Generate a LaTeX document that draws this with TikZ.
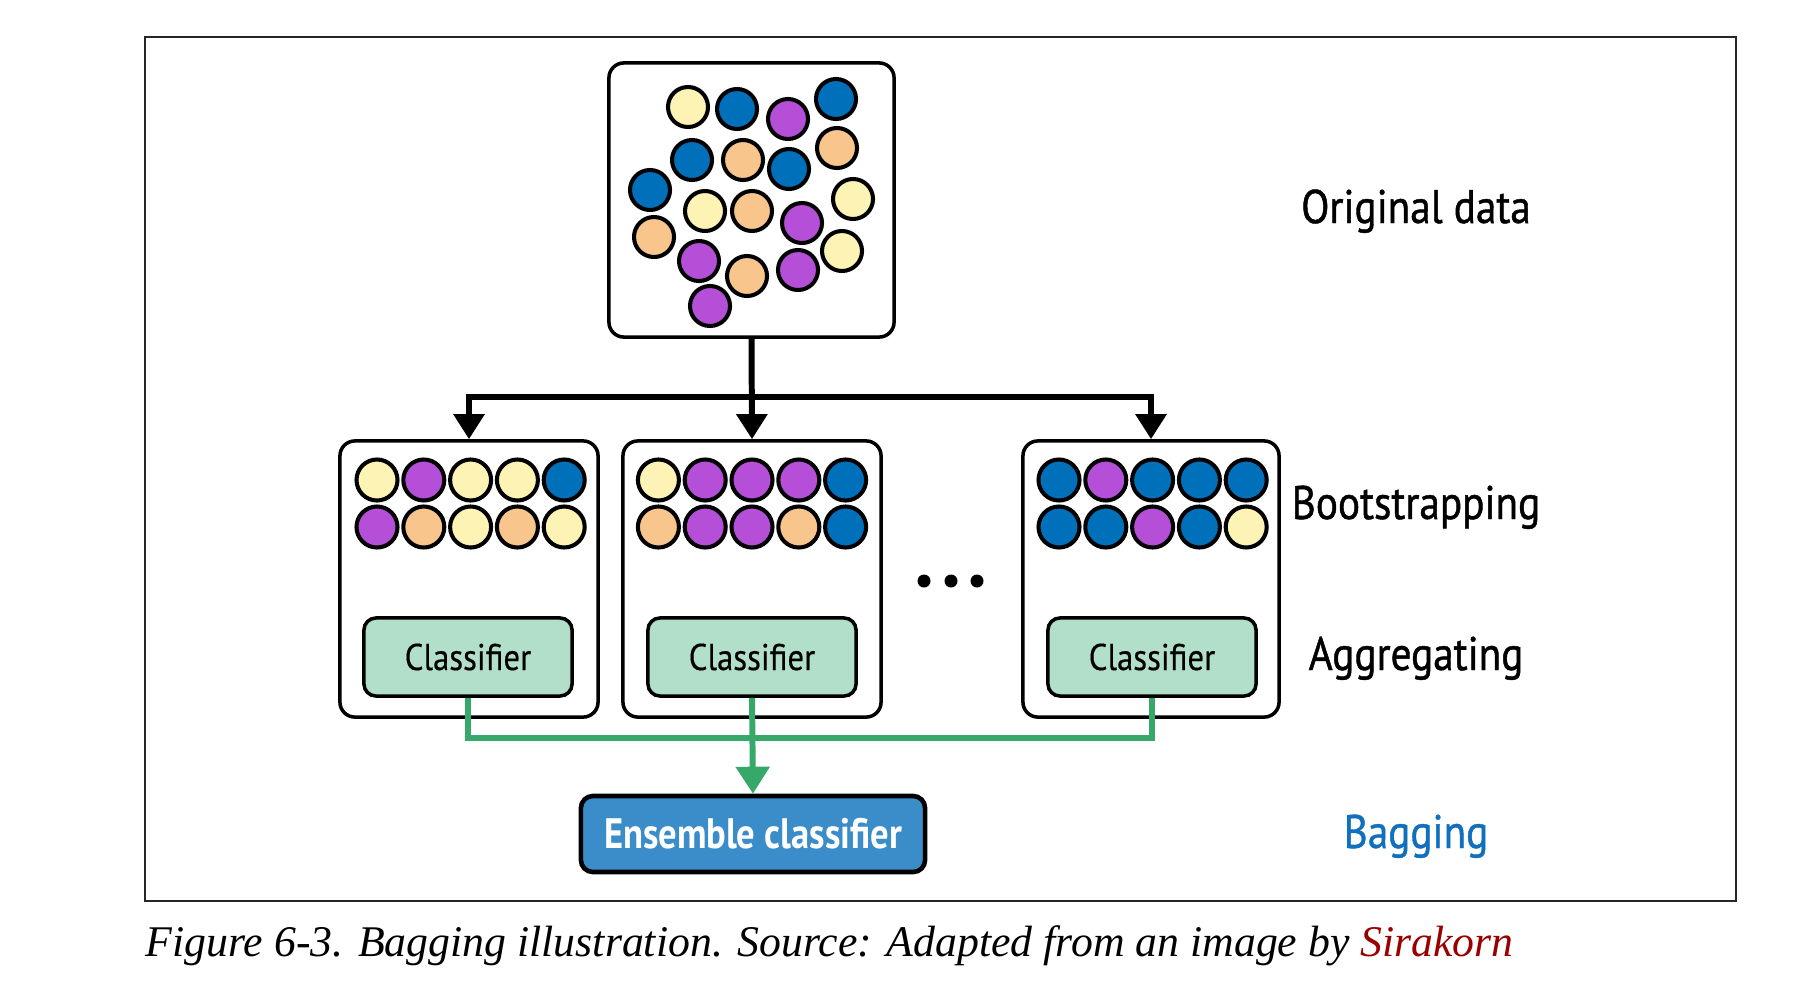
\documentclass[tikz,border=0pt]{standalone}
\usepackage{fontspec}
\setmainfont{Liberation Serif}
\newfontfamily\labfont{PT Sans}[FakeStretch=0.875,FakeBold=0.9]
\newfontfamily\clsfont{PT Sans}[FakeStretch=0.88,FakeBold=0.3]
\newfontfamily\ensfont{PT Sans}[FakeStretch=0.86]
\usetikzlibrary{arrows.meta}
\definecolor{cY}{RGB}{253,243,180}
\definecolor{cB}{RGB}{0,112,186}
\definecolor{cP}{RGB}{182,79,216}
\definecolor{cO}{RGB}{248,198,140}
\definecolor{clsfill}{RGB}{178,223,201}
\definecolor{grn}{RGB}{54,169,106}
\definecolor{ensfill}{RGB}{58,141,201}
\definecolor{bagblue}{RGB}{16,112,190}
\definecolor{capred}{RGB}{153,0,0}
\begin{document}
\begin{tikzpicture}[x=0.01cm,y=-0.01cm,
  ball/.style={circle, draw=black, line width=1.15pt, inner sep=0pt, minimum size=0.4cm},
  databox/.style={rectangle, draw=black, line width=1pt, rounded corners=0.15cm, fill=white},
  clsbox/.style={rectangle, draw=black, line width=1pt, rounded corners=0.12cm, fill=clsfill,
     minimum width=2.08cm, minimum height=0.78cm, font={\clsfont\fontsize{10.6}{12}\selectfont}},
  blk/.style={draw=black, line width=1.7pt},
  grnline/.style={draw=grn, line width=1.7pt},
  blktip/.style={-{Triangle[length=0.25cm,width=0.3cm]}},
  grntip/.style={-{Triangle[length=0.27cm,width=0.33cm]}},
  lab/.style={anchor=base, font={\labfont\fontsize{13.4}{15}\selectfont}},
  dotsym/.style={circle, fill=black, inner sep=0pt, minimum size=0.13cm}
]
\useasboundingbox (0,0) rectangle (1800,1000);
\draw[black!85, line width=0.6pt] (145,37) rectangle (1736,901);

% original data box
\node[databox, minimum width=2.85cm, minimum height=2.74cm] (orig) at (751.5,200) {};
\foreach \x/\y/\c [count=\i] in {688/107/cY,737/109/cB,788/119/cP,836/99/cB,692/160/cB,743/160/cO,789/169/cB,837/148/cO,650/190/cB,705/211/cY,752/211/cO,802/223/cP,853/199/cY,654/237/cO,699/261/cP,747/276/cO,798/270/cP,842/251/cY,710/306/cP}
  \node[ball, fill=\c] (d\i) at (\x,\y) {};

% bootstrap boxes
\node[databox, minimum width=2.58cm, minimum height=2.76cm] (b1) at (469,579) {};
\node[databox, minimum width=2.58cm, minimum height=2.76cm] (b2) at (752,579) {};
\node[databox, minimum width=2.56cm, minimum height=2.76cm] (b3) at (1151,579) {};

\foreach \c [count=\i] in {cY,cP,cY,cY,cB}
  \node[ball, fill=\c, minimum size=0.41cm] (pa\i) at ({377+46.8*(\i-1)},480) {};
\foreach \c [count=\i] in {cP,cO,cY,cO,cY}
  \node[ball, fill=\c, minimum size=0.41cm] (qa\i) at ({377+46.8*(\i-1)},527) {};
\foreach \c [count=\i] in {cY,cP,cP,cP,cB}
  \node[ball, fill=\c, minimum size=0.41cm] (pb\i) at ({658.4+46.8*(\i-1)},480) {};
\foreach \c [count=\i] in {cO,cP,cP,cO,cB}
  \node[ball, fill=\c, minimum size=0.41cm] (qb\i) at ({658.4+46.8*(\i-1)},527) {};
\foreach \c [count=\i] in {cB,cP,cB,cB,cB}
  \node[ball, fill=\c, minimum size=0.41cm] (pc\i) at ({1059+46.8*(\i-1)},480) {};
\foreach \c [count=\i] in {cB,cB,cP,cB,cY}
  \node[ball, fill=\c, minimum size=0.41cm] (qc\i) at ({1059+46.8*(\i-1)},527) {};

% classifiers
\node[clsbox] (c1) at (468,657) {Classifier};
\node[clsbox] (c2) at (752,657) {Classifier};
\node[clsbox] (c3) at (1152,657) {Classifier};

% dots
\node[dotsym] (e1) at (924,581) {};
\node[dotsym] (e2) at (951,581) {};
\node[dotsym] (e3) at (977,581) {};

% ensemble
\node[rectangle, draw=black, line width=1.3pt, rounded corners=0.12cm, fill=ensfill,
  minimum width=3.44cm, minimum height=0.76cm, text=white,
  font={\ensfont\bfseries\fontsize{12.1}{14}\selectfont}] (ens) at (753,834) {Ensemble classifier};

% black tree
\coordinate (hm) at (752,397);
\draw[blk, blktip] (orig.south) -- (b2.north);
\draw[blk, blktip] (hm) -| (b1.north);
\draw[blk, blktip] (hm) -| (b3.north);

% green aggregation
\coordinate (gm) at (752,738);
\draw[grnline] (c1.south) |- (gm);
\draw[grnline] (c3.south) |- (gm);
\draw[grnline, grntip] (c2.south) -- (ens.north);

% labels
\node[lab] (lorig) at (1416,223) {Original data};
\node[lab] (lboot) at (1416,519) {Bootstrapping};
\node[lab] (lagg) at (1416,670) {Aggregating};
\node[lab, text=bagblue] (lbag) at (1416,848) {Bagging};

% caption
\node[anchor=base west, inner sep=0pt, font={\itshape\fontsize{12.45}{14}\selectfont}] (cap) at (145,956)
  {Figure 6-3. Bagging illustration. Source: Adapted from an image by \textcolor{capred}{Sirakorn}};
\end{tikzpicture}
\end{document}
